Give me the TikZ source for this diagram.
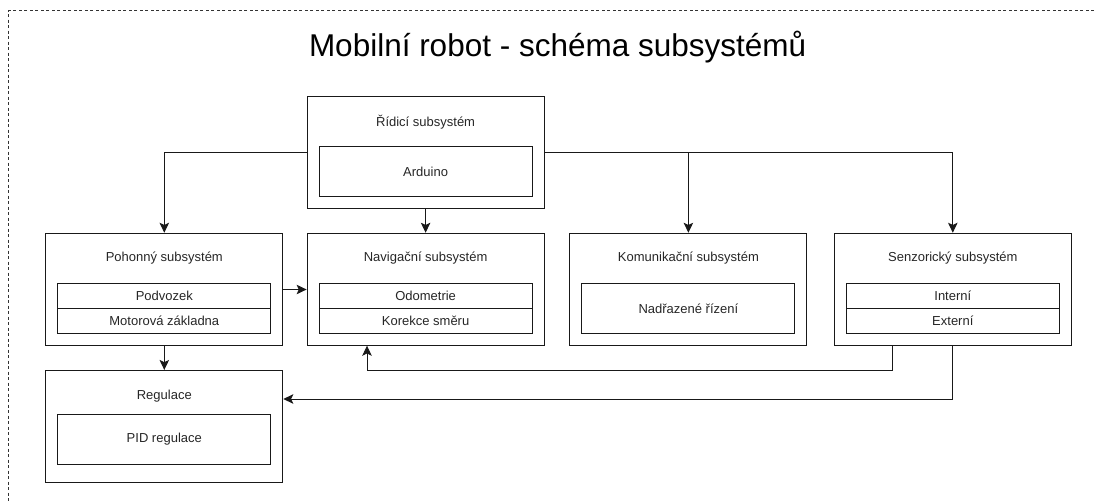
\documentclass[tikz,border=0pt]{standalone}
\usepackage{fontspec}
\setmainfont{Liberation Sans}
\usetikzlibrary{arrows.meta,calc}

\tikzset{
  outerbox/.style={draw=black!90, line width=1pt, minimum width=237pt, minimum height=112.5pt, inner sep=0pt},
  innerbox/.style={draw=black!90, line width=1pt, minimum width=213pt, minimum height=50pt, inner sep=0pt,
                   font=\fontsize{13}{15}\selectfont, text=black!85},
  rowbox/.style={draw=black!90, line width=1pt, minimum width=213pt, minimum height=25pt, inner sep=0pt,
                 font=\fontsize{13}{15}\selectfont, text=black!85},
  caption/.style={inner sep=0pt, font=\fontsize{13}{15}\selectfont, text=black!85},
  link/.style={draw=black!90, line width=1pt, -{Stealth[length=10pt, width=9.5pt, inset=2.2pt]}},
  frame/.style={draw=black!80, line width=0.8pt, dash pattern=on 3pt off 2.5pt}
}

\begin{document}
\begin{tikzpicture}[x=1pt, y=-1pt]
  \useasboundingbox (0,0) rectangle (1094,503);

  % dotted page frame
  \coordinate (frameTL) at (8.6,10.5);
  \coordinate (frameTR) at (1094,10.5);
  \coordinate (frameBL) at (8.6,503);
  \draw[frame] (frameTR) -- (frameTL) -- (frameBL);

  % title
  \node[inner sep=0pt, anchor=base, font=\fontsize{31.5}{36}\selectfont] (title) at (557.6,56.7)
    {Mobilní robot - schéma subsystémů};

  % control subsystem
  \node[outerbox] (ridici) at (425.6,152.4) {};
  \node[caption] (ridiciLbl) at (425.6,121.7) {Řídicí subsystém};
  \node[innerbox] (arduino) at (425.6,171.4) {Arduino};

  % drive subsystem
  \node[outerbox] (pohon) at (164.3,289.5) {};
  \node[caption] (pohonLbl) at (164.3,258.3) {Pohonný subsystém};
  \node[rowbox] (podvozek) at (164.3,295.8) {Podvozek};
  \node[rowbox] (motor) at (164.3,320.8) {Motorová základna};

  % navigation subsystem
  \node[outerbox] (nav) at (425.6,289.5) {};
  \node[caption] (navLbl) at (425.6,258.3) {Navigační subsystém};
  \node[rowbox] (odometrie) at (425.6,295.8) {Odometrie};
  \node[rowbox] (korekce) at (425.6,320.8) {Korekce směru};

  % communication subsystem
  \node[outerbox] (komun) at (688.4,289.5) {};
  \node[caption] (komunLbl) at (688.4,258.3) {Komunikační subsystém};
  \node[innerbox] (nadrazene) at (688.4,308.3) {Nadřazené řízení};

  % sensor subsystem
  \node[outerbox] (senz) at (952.8,289.5) {};
  \node[caption] (senzLbl) at (952.8,258.3) {Senzorický subsystém};
  \node[rowbox] (interni) at (952.8,295.8) {Interní};
  \node[rowbox] (externi) at (952.8,320.8) {Externí};

  % regulation
  \node[outerbox] (reg) at (164.3,426.7) {};
  \node[caption] (regLbl) at (164.3,395.7) {Regulace};
  \node[innerbox] (pid) at (164.3,439.2) {PID regulace};

  % connectors from the control subsystem
  \draw[link] (ridici.west) -| (pohon.north);
  \draw[link] (ridici.south) -- (nav.north);
  \draw[link] (ridici.east) -| (komun.north);
  \draw[link] (ridici.east) -| (senz.north);

  % drive subsystem connectors
  \draw[link] (pohon.east) -- (nav.west);
  \draw[link] (pohon.south) -- (reg.north);

  % sensor feedback
  \coordinate (navTap) at (892.9,370.7);
  \coordinate (navIn) at (367,345.7);
  \draw[link] (navTap |- senz.south) -- (navTap) -| (navIn);

  \coordinate (regTap) at (952.8,399);
  \draw[link] (senz.south) -- (regTap) -- (regTap -| reg.east);
\end{tikzpicture}
\end{document}
